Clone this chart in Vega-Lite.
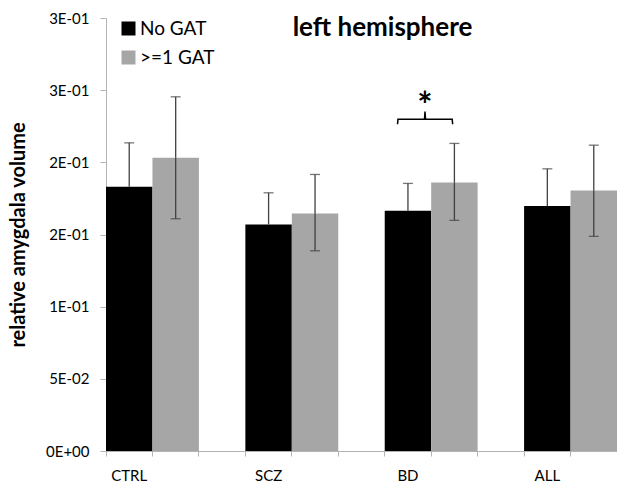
{
  "$schema": "https://vega.github.io/schema/vega-lite/v6.json",
  "width": 511,
  "height": 433,
  "autosize": "none",
  "padding": {"left": 106, "top": 18, "right": 0, "bottom": 33},
  "background": "white",
  "config": {"view": {"stroke": null}, "font": "Lato"},
  "title": {"text": "left hemisphere", "fontSize": 26, "fontWeight": "bold", "color": "#000000", "dx": 21, "dy": 34},
  "datasets": {
    "bars": [
      {"diagnosis": "CTRL", "group": "No GAT", "volume": 0.1830, "lower": 0.1525, "upper": 0.2135},
      {"diagnosis": "CTRL", "group": ">=1 GAT", "volume": 0.2031, "lower": 0.1609, "upper": 0.2454},
      {"diagnosis": "SCZ", "group": "No GAT", "volume": 0.1570, "lower": 0.1351, "upper": 0.1789},
      {"diagnosis": "SCZ", "group": ">=1 GAT", "volume": 0.1646, "lower": 0.1387, "upper": 0.1916},
      {"diagnosis": "BD", "group": "No GAT", "volume": 0.1664, "lower": 0.1474, "upper": 0.1854},
      {"diagnosis": "BD", "group": ">=1 GAT", "volume": 0.1861, "lower": 0.1598, "upper": 0.2131},
      {"diagnosis": "ALL", "group": "No GAT", "volume": 0.1697, "lower": 0.1439, "upper": 0.1955},
      {"diagnosis": "ALL", "group": ">=1 GAT", "volume": 0.1805, "lower": 0.1487, "upper": 0.2119}
    ],
    "bracket": [
      {"i": 0, "bx": 6.275, "by": 0.2264},
      {"i": 1, "bx": 6.285, "by": 0.2298},
      {"i": 2, "bx": 6.856, "by": 0.2298},
      {"i": 3, "bx": 6.867, "by": 0.2351},
      {"i": 4, "bx": 6.878, "by": 0.2298},
      {"i": 5, "bx": 7.452, "by": 0.2298},
      {"i": 6, "bx": 7.463, "by": 0.2264}
    ],
    "star": [
      {"bx": 6.867, "by": 0.2309, "label": "*"}
    ]
  },
  "layer": [
    {
      "data": {"name": "bars"},
      "transform": [{"calculate": "datum.diagnosis + '|' + datum.group", "as": "slot"}],
      "encoding": {
        "x": {
          "field": "slot",
          "type": "nominal",
          "scale": {
            "domain": ["CTRL|No GAT", "CTRL|>=1 GAT", "gap1", "SCZ|No GAT", "SCZ|>=1 GAT", "gap2", "BD|No GAT", "BD|>=1 GAT", "gap3", "ALL|No GAT", "ALL|>=1 GAT"],
            "paddingInner": 0,
            "paddingOuter": 0
          },
          "axis": {
            "title": null,
            "bandPosition": 0,
            "labelExpr": "indexof(datum.value, '|No GAT') > 0 ? split(datum.value, '|')[0] : ''",
            "labelAngle": 0,
            "labelFontSize": 15,
            "labelColor": "#000000",
            "domainColor": "#b3b3b3",
            "tickColor": "#b3b3b3",
            "tickSize": 5,
            "labelPadding": 12
          }
        }
      },
      "layer": [
        {
          "mark": {"type": "bar"},
          "encoding": {
            "y": {
              "field": "volume",
              "type": "quantitative",
              "scale": {"domain": [0, 0.3], "nice": false},
              "title": "relative amygdala volume",
              "axis": {
                "values": [0, 0.05, 0.1, 0.15, 0.2, 0.25, 0.3],
                "labelExpr": "datum.value < 0.01 ? '0E+00' : datum.value < 0.07 ? '5E-02' : datum.value < 0.12 ? '1E-01' : datum.value < 0.22 ? '2E-01' : '3E-01'",
                "grid": false,
                "domainColor": "#b3b3b3",
                "tickColor": "#b3b3b3",
                "tickSize": 6,
                "labelFontSize": 15,
                "labelColor": "#000000",
                "labelPadding": 11,
                "titleFontSize": 20,
                "titleFontWeight": "bold",
                "titleColor": "#000000",
                "titlePadding": 17
              }
            },
            "color": {
              "field": "group",
              "type": "nominal",
              "scale": {"domain": ["No GAT", ">=1 GAT"], "range": ["#000000", "#a6a6a6"]},
              "legend": {
                "title": null,
                "orient": "none",
                "legendX": 13,
                "legendY": 1,
                "symbolType": "square",
                "symbolSize": 196,
                "labelFontSize": 19,
                "labelColor": "#000000",
                "rowPadding": 9,
                "labelOffset": 2
              }
            }
          }
        },
        {
          "mark": {"type": "rule", "color": "#404040", "strokeWidth": 1.3},
          "encoding": {
            "y": {"field": "volume", "type": "quantitative"},
            "y2": {"field": "upper"}
          }
        },
        {
          "mark": {"type": "tick", "color": "#404040", "thickness": 1.3, "size": 10},
          "encoding": {"y": {"field": "upper", "type": "quantitative"}}
        },
        {
          "transform": [{"filter": "datum.group !== 'No GAT'"}],
          "mark": {"type": "rule", "color": "#404040", "strokeWidth": 1.3},
          "encoding": {
            "y": {"field": "lower", "type": "quantitative"},
            "y2": {"field": "volume"}
          }
        },
        {
          "transform": [{"filter": "datum.group !== 'No GAT'"}],
          "mark": {"type": "tick", "color": "#404040", "thickness": 1.3, "size": 10},
          "encoding": {"y": {"field": "lower", "type": "quantitative"}}
        }
      ]
    },
    {
      "layer": [
        {
          "data": {"name": "bracket"},
          "mark": {"type": "line", "color": "#000000", "strokeWidth": 1.5},
          "encoding": {
            "x": {"field": "bx", "type": "quantitative", "scale": {"domain": [0, 11], "nice": false, "zero": false}, "axis": null},
            "y": {"field": "by", "type": "quantitative", "scale": {"domain": [0, 0.3], "nice": false}},
            "order": {"field": "i"}
          }
        },
        {
          "data": {"name": "star"},
          "mark": {"type": "text", "fontSize": 36, "fontWeight": "bold", "color": "#000000", "baseline": "alphabetic"},
          "encoding": {
            "x": {"field": "bx", "type": "quantitative", "scale": {"domain": [0, 11], "nice": false, "zero": false}, "axis": null},
            "y": {"field": "by", "type": "quantitative"},
            "text": {"field": "label"}
          }
        }
      ]
    }
  ],
  "resolve": {"scale": {"x": "independent"}}
}
